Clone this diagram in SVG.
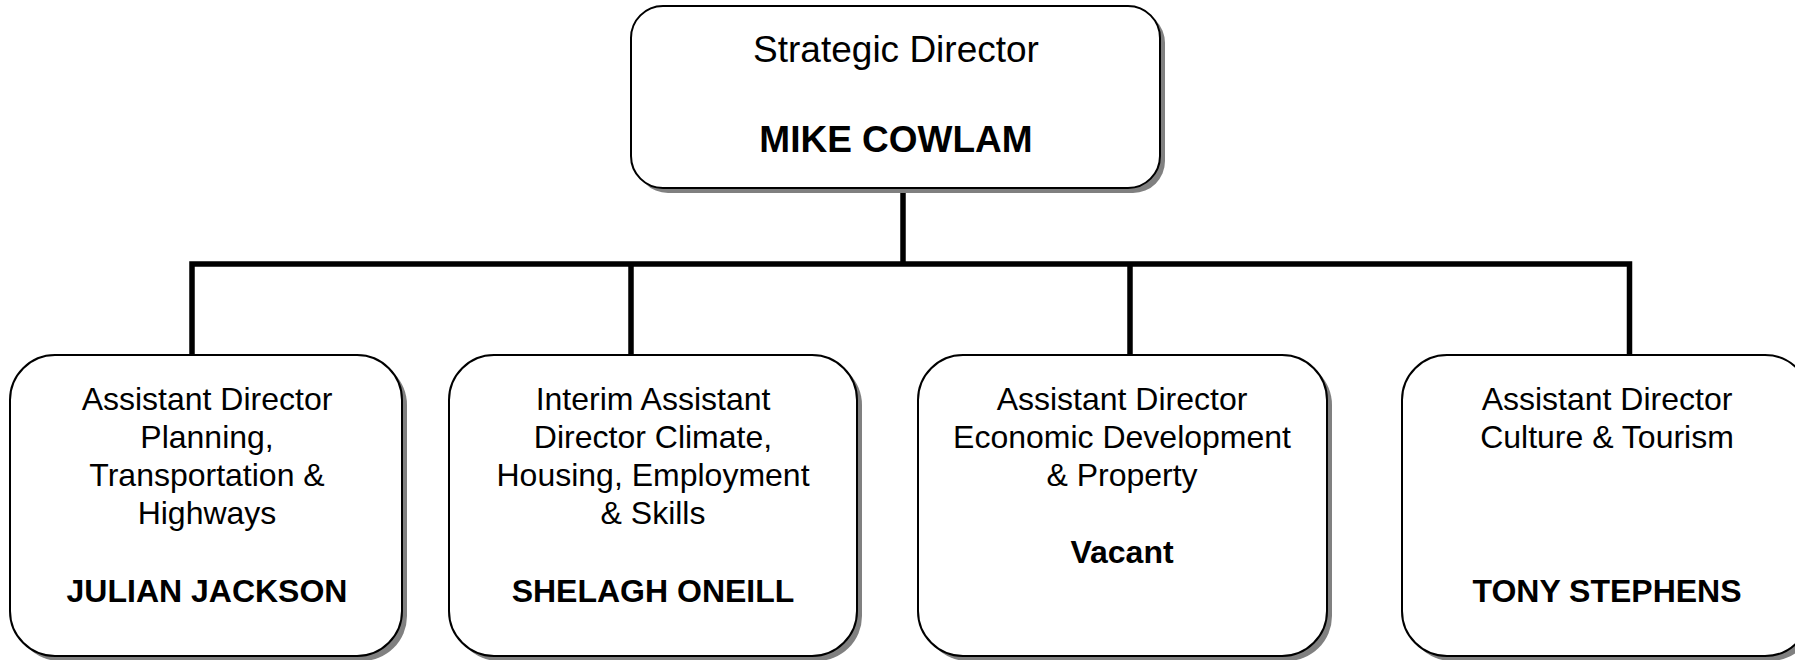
<svg xmlns="http://www.w3.org/2000/svg" width="1795" height="660" viewBox="0 0 1795 660">
<style>
.box{fill:#ffffff;stroke:#000000;stroke-width:2}
.shadow{fill:#808080;stroke:none}
.t{font-family:"Liberation Sans",Arial,sans-serif;font-size:32px;fill:#000;text-anchor:middle}
.b{font-weight:bold}
.big{font-size:37px}
.line{stroke:#000;stroke-width:5.5;fill:none;stroke-linecap:butt;stroke-linejoin:miter}
</style>
<rect width="1795" height="660" fill="#ffffff"/>
<g id="connectors">
<path class="line" d="M903 188 V264"/>
<path class="line" d="M192 354 V264 H1629.5 V354"/>
<path class="line" d="M631 264 V354 M1130 264 V354"/>
</g>
<g id="node-strategic">
<rect class="shadow" x="636" y="11" width="529" height="182" rx="32"/>
<rect class="box" x="631" y="6" width="529" height="182" rx="32"/>
<text class="t big" x="896" y="62">Strategic Director</text>
<text class="t big b" x="896" y="152">MIKE COWLAM</text>
</g>
<g id="node-planning">
<rect class="shadow" x="15" y="360" width="392" height="301" rx="45"/>
<rect class="box" x="10" y="355" width="392" height="301" rx="45"/>
<text class="t" x="207" y="410">Assistant Director</text>
<text class="t" x="207" y="448">Planning,</text>
<text class="t" x="207" y="486">Transportation &amp;</text>
<text class="t" x="207" y="524">Highways</text>
<text class="t b" x="207" y="602">JULIAN JACKSON</text>
</g>
<g id="node-climate">
<rect class="shadow" x="454" y="360" width="408" height="301" rx="45"/>
<rect class="box" x="449" y="355" width="408" height="301" rx="45"/>
<text class="t" x="653" y="410">Interim Assistant</text>
<text class="t" x="653" y="448">Director Climate,</text>
<text class="t" x="653" y="486">Housing, Employment</text>
<text class="t" x="653" y="524">&amp; Skills</text>
<text class="t b" x="653" y="602">SHELAGH ONEILL</text>
</g>
<g id="node-economic">
<rect class="shadow" x="923" y="360" width="409" height="301" rx="45"/>
<rect class="box" x="918" y="355" width="409" height="301" rx="45"/>
<text class="t" x="1122" y="410">Assistant Director</text>
<text class="t" x="1122" y="448">Economic Development</text>
<text class="t" x="1122" y="486">&amp; Property</text>
<text class="t b" x="1122" y="563">Vacant</text>
</g>
<g id="node-culture">
<rect class="shadow" x="1407" y="360" width="408" height="301" rx="45"/>
<rect class="box" x="1402" y="355" width="408" height="301" rx="45"/>
<text class="t" x="1607" y="410">Assistant Director</text>
<text class="t" x="1607" y="448">Culture &amp; Tourism</text>
<text class="t b" x="1607" y="602">TONY STEPHENS</text>
</g>
</svg>
